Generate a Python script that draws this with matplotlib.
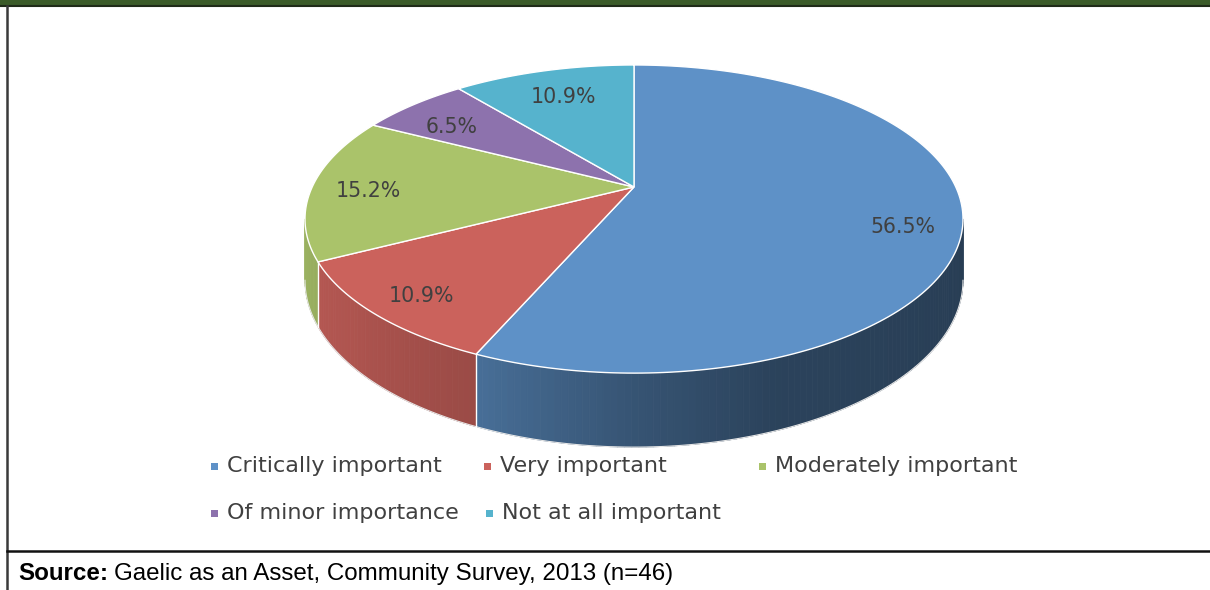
import numpy as np
import matplotlib.pyplot as plt
from matplotlib.patches import Polygon, Rectangle
from matplotlib.collections import PolyCollection

# survey answers (percent of respondents)
categories = ["Critically important", "Very important", "Moderately important",
              "Of minor importance", "Not at all important"]
shares = [56.5, 10.9, 15.2, 6.5, 10.9]
top_colors = ["#5e91c7", "#cb625c", "#aac36a", "#8d72ad", "#56b3cd"]

# where the percentage labels and legend entries sit (pixels)
label_xy = [(903, 227), (421, 296), (368, 191), (452, 127), (563, 97)]
legend_xy = [(214, 466), (487, 466), (762, 466), (214, 513), (489, 513)]

W, Hpx = 1210, 590
fig = plt.figure(figsize=(W / 100, Hpx / 100), dpi=100)
ax = fig.add_axes([0, 0, 1, 1])
ax.set_xlim(0, W)
ax.set_ylim(Hpx, 0)
ax.axis("off")

# perspective disc: centre, half axes, depth factor, thickness
cx, cy = 634, 187
A, B = 321.8, 147.4
k = 0.208
depth = 58.6


def project(theta, r=1.0, drop=0.0):
    u = r * np.cos(theta)
    v = r * np.sin(theta)
    w = 1 + k * v
    return cx + A * u / w, cy - B * v / w + drop / w


def shade(hexcol, f):
    c = np.array([int(hexcol[i:i + 2], 16) for i in (1, 3, 5)]) / 255.0
    return tuple(np.clip(c * f, 0, 1))


# slice angles, clockwise from 12 o'clock
cum = np.concatenate([[0], np.cumsum(shares)]) / 100.0
starts = np.pi / 2 - 2 * np.pi * cum[:-1]
ends = np.pi / 2 - 2 * np.pi * cum[1:]

# visible part of the rim lies between the two silhouette angles
th_left = -np.pi + np.arcsin(k)
th_right = -np.arcsin(k)

shade_deg = [-168, -140, -113, -90, -70, -12]
shade_fac = [0.92, 0.86, 0.76, 0.58, 0.46, 0.42]

for i in range(len(shares)):
    lo = max(ends[i], th_left)
    hi = min(starts[i], th_right)
    if lo >= hi:
        continue
    th = np.linspace(lo, hi, max(int(np.degrees(hi - lo)), 2) + 1)
    quads, cols = [], []
    for t0, t1 in zip(th[:-1], th[1:]):
        p0 = project(t0)
        p1 = project(t1)
        q1 = project(t1, drop=depth)
        q0 = project(t0, drop=depth)
        quads.append([p0, p1, q1, q0])
        f = np.interp(np.degrees((t0 + t1) / 2), shade_deg, shade_fac)
        cols.append(shade(top_colors[i], f))
    ax.add_collection(PolyCollection(quads, facecolors=cols, edgecolors=cols,
                                     linewidths=0.6, zorder=2))
    # bottom rim edge
    bx, by = zip(*[project(t, drop=depth) for t in th])
    ax.plot(bx, by, color="#e6e6e6", lw=0.8, zorder=2.5)

# white seams where slices meet on the rim
for t in starts:
    if th_left < t < th_right:
        x0, y0 = project(t)
        x1, y1 = project(t, drop=depth)
        ax.plot([x0, x1], [y0, y1], color="white", lw=1.0, zorder=2.6)

# top faces
for i in range(len(shares)):
    th = np.linspace(starts[i], ends[i], 200)
    pts = [(cx, cy)] + [project(t) for t in th]
    ax.add_patch(Polygon(pts, closed=True, facecolor=top_colors[i],
                         edgecolor="white", lw=1.0, zorder=3))

for (x, y), s in zip(label_xy, shares):
    ax.text(x, y, f"{s:.1f}%", ha="center", va="center", fontsize=14.8,
            color="#404040", family="DejaVu Sans", zorder=5)

# legend
for (x, y), name, col in zip(legend_xy, categories, top_colors):
    ax.add_patch(Rectangle((x - 3.5, y - 3.5), 7, 7, facecolor=col,
                           edgecolor="none", zorder=5))
    ax.text(x + 13, y, name, ha="left", va="center", fontsize=16,
            color="#404040", family="DejaVu Sans", zorder=5)

# frame: green header strip, left rule, rule above the source line
ax.add_patch(Rectangle((0, 0), W, 5, facecolor="#3b5b29", edgecolor="none", zorder=6))
ax.plot([0, W], [5.5, 5.5], color="#1f2b18", lw=1.5, zorder=6)
ax.plot([6.5, 6.5], [6, Hpx], color="#3a3a3a", lw=1.8, zorder=6)
ax.plot([6.5, W], [550.5, 550.5], color="#111111", lw=1.8, zorder=6)

src = ax.text(18, 580, "Source:", ha="left", va="baseline", fontsize=17.4,
              fontweight="bold", family="Liberation Sans", color="black")
fig.canvas.draw()
bb = src.get_window_extent(fig.canvas.get_renderer())
# one data unit is one pixel, so the bold word's right edge can be reused as x
ax.text(bb.x1 + 6, 580, "Gaelic as an Asset, Community Survey, 2013 (n=46)",
        ha="left", va="baseline", fontsize=17.4, family="Liberation Sans",
        color="black")

fig.savefig("out.png", dpi=100)
